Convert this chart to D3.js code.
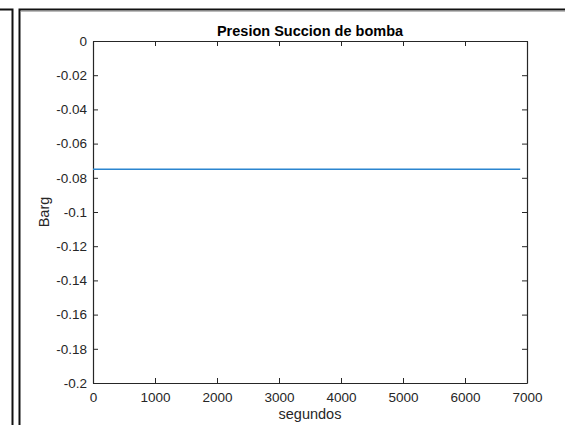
<!DOCTYPE html>
<html>
<head>
<meta charset="utf-8">
<script src="https://cdn.jsdelivr.net/npm/d3@7"></script>
<style>
    body { margin: 0; background: #fff; }
    svg { display: block; font-family: "Liberation Sans", Arial, Helvetica, sans-serif; }
</style>
</head>
<body>
<div id="chart"></div>
<script>
// data
const seconds = [0, 6890];
const pressure = [-0.075, -0.075];
const xTicks = [0, 1000, 2000, 3000, 4000, 5000, 6000, 7000];
const yTicks = [0, -0.02, -0.04, -0.06, -0.08, -0.1, -0.12, -0.14, -0.16, -0.18, -0.2];
const titleText = "Presion Succion de bomba";
const xLabel = "segundos";
const yLabel = "Barg";

const width = 565, height = 425;
const margin = {top: 41, right: 38, bottom: 42, left: 93};

const svg = d3.select("#chart").append("svg")
    .attr("width", width).attr("height", height);

// window frames
svg.append("path")
    .attr("d", `M0,9.5 H12.5 V${height}`)
    .attr("fill", "none").attr("stroke", "#111").attr("stroke-width", 2);
svg.append("path")
    .attr("d", `M19.5,${height} V9.5 H${width}`)
    .attr("fill", "none").attr("stroke", "#111").attr("stroke-width", 2);
svg.append("line")
    .attr("x1", 21).attr("x2", width).attr("y1", 11.5).attr("y2", 11.5)
    .attr("stroke", "#bbb").attr("stroke-width", 1);

const x = d3.scaleLinear()
    .domain([0, 7000])
    .range([margin.left, width - margin.right]);
const y = d3.scaleLinear()
    .domain([-0.2, 0])
    .range([height - margin.bottom, margin.top]);

const fmt = d => d === 0 ? "0" : String(+d.toFixed(2));
const tick = 5;

// bottom / left axes (ticks inside)
const gx = svg.append("g")
    .attr("transform", `translate(0,${height - margin.bottom})`)
    .call(d3.axisBottom(x).tickValues(xTicks).tickSizeInner(-tick).tickSizeOuter(0).tickPadding(9).tickFormat(d3.format("d")));
const gy = svg.append("g")
    .attr("transform", `translate(${margin.left},0)`)
    .call(d3.axisLeft(y).tickValues(yTicks).tickSizeInner(-tick).tickSizeOuter(0).tickPadding(6).tickFormat(fmt));
// top / right mirrored ticks
const gt = svg.append("g")
    .attr("transform", `translate(0,${margin.top})`)
    .call(d3.axisTop(x).tickValues(xTicks).tickSizeInner(-tick).tickSizeOuter(0).tickFormat(""));
const gr = svg.append("g")
    .attr("transform", `translate(${width - margin.right},0)`)
    .call(d3.axisRight(y).tickValues(yTicks).tickSizeInner(-tick).tickSizeOuter(0).tickFormat(""));

[gx, gy, gt, gr].forEach(g => {
    g.selectAll("path.domain").attr("stroke", "#262626").attr("stroke-width", 1.2);
    g.selectAll("line").attr("stroke", "#262626");
    g.selectAll("text").attr("fill", "#262626").style("font-size", "13.5px");
});

// data line
const pts = seconds.map((s, i) => ({s: s, p: pressure[i]}));
svg.append("path")
    .datum(pts)
    .attr("fill", "none")
    .attr("stroke", "#2b85cf")
    .attr("stroke-width", 1.3)
    .attr("d", d3.line().x(d => x(d.s)).y(d => y(d.p)));

// title and labels
svg.append("text")
    .attr("x", (margin.left + width - margin.right) / 2).attr("y", 36)
    .attr("text-anchor", "middle")
    .style("font-size", "14.5px").style("font-weight", "bold")
    .attr("fill", "#000")
    .text(titleText);
svg.append("text")
    .attr("x", (margin.left + width - margin.right) / 2).attr("y", 419)
    .attr("text-anchor", "middle")
    .style("font-size", "14.5px").attr("fill", "#262626")
    .text(xLabel);
svg.append("text")
    .attr("transform", `translate(49,${(margin.top + height - margin.bottom) / 2}) rotate(-90)`)
    .attr("text-anchor", "middle")
    .style("font-size", "14.5px").attr("fill", "#262626")
    .text(yLabel);
</script>
</body>
</html>
